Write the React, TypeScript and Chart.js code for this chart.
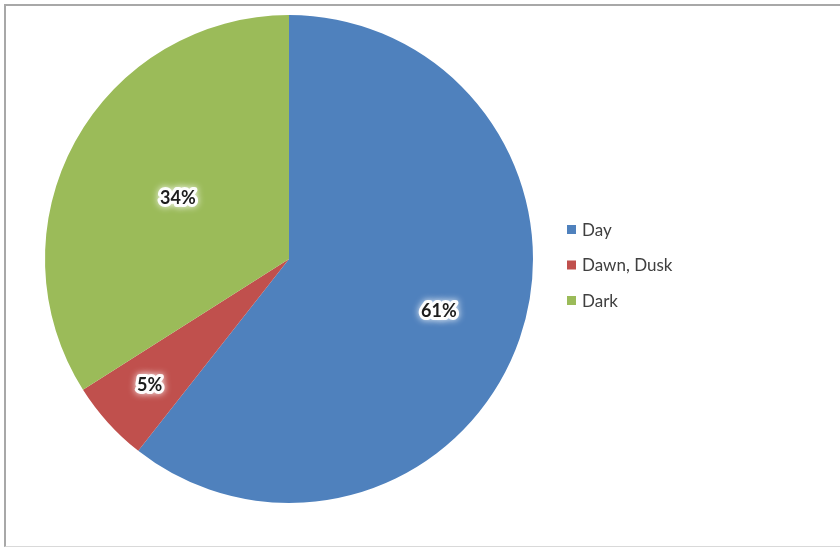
import React, { useEffect, useRef } from "react";
import { Chart, registerables } from "chart.js";

Chart.register(...registerables);

const categories = ["Day", "Dawn, Dusk", "Dark"];
const shares = [60.6, 5.4, 34.0];
const sliceColors = ["#4F81BD", "#C0504D", "#9BBB59"];
const labelRadiusFactors = [0.65, 0.77, 0.52];

const percentLabels = {
  id: "percentLabels",
  afterDatasetsDraw(chart: any) {
    const ctx = chart.ctx;
    const meta = chart.getDatasetMeta(0);
    ctx.save();
    ctx.font = "bold 18px Lato, 'Open Sans', sans-serif";
    ctx.textAlign = "center";
    ctx.textBaseline = "middle";
    meta.data.forEach((arc: any, i: number) => {
      const p = arc.getProps(["x", "y", "startAngle", "endAngle", "outerRadius"], true);
      const mid = (p.startAngle + p.endAngle) / 2;
      const r = p.outerRadius * labelRadiusFactors[i];
      const x = p.x + Math.cos(mid) * r;
      const y = p.y + Math.sin(mid) * r;
      const text = Math.round(shares[i]) + "%";
      ctx.shadowColor = "rgba(255,255,255,0.95)";
      ctx.shadowBlur = 7;
      ctx.lineJoin = "round";
      ctx.strokeStyle = "rgba(255,255,255,0.95)";
      ctx.lineWidth = 6;
      ctx.strokeText(text, x, y);
      ctx.shadowBlur = 0;
      ctx.fillStyle = "#1c1c1c";
      ctx.fillText(text, x, y);
    });
    ctx.restore();
  },
};

const sideLegend = {
  id: "sideLegend",
  afterDraw(chart: any) {
    const ctx = chart.ctx;
    const area = chart.chartArea;
    const cy = (area.top + area.bottom) / 2;
    const spacing = 35.5;
    const x0 = area.right + 34;
    ctx.save();
    ctx.font = "17px Lato, 'Open Sans', sans-serif";
    ctx.textBaseline = "middle";
    ctx.textAlign = "left";
    categories.forEach((c, i) => {
      const y = cy + 6 + (i - 1) * spacing;
      ctx.fillStyle = sliceColors[i];
      ctx.fillRect(x0, y - 4.5, 9, 9);
      ctx.fillStyle = "#404040";
      ctx.fillText(c, x0 + 15, y + 1);
    });
    ctx.restore();
  },
};

export default function App() {
  const canvasRef = useRef<HTMLCanvasElement>(null);

  useEffect(() => {
    document.body.style.margin = "0";
    const chart = new Chart(canvasRef.current!, {
      type: "pie",
      data: {
        labels: categories,
        datasets: [
          {
            data: shares,
            backgroundColor: sliceColors,
            borderWidth: 0,
          },
        ],
      },
      options: {
        animation: false,
        responsive: false,
        maintainAspectRatio: false,
        layout: { padding: { left: 45, top: 15, right: 307, bottom: 44 } },
        plugins: {
          legend: { display: false },
          tooltip: { enabled: false },
        },
      },
      plugins: [percentLabels, sideLegend],
    });
    return () => chart.destroy();
  }, []);

  return (
    <div style={{ position: "relative", width: 840, height: 547, overflow: "hidden", background: "#fff" }}>
      <div
        style={{
          position: "absolute",
          left: 4,
          top: 4,
          width: 900,
          height: 540,
          borderTop: "2px solid #a8a8a8",
          borderLeft: "2px solid #a8a8a8",
          borderBottom: "1px solid #d9d9d9",
        }}
      />
      <canvas ref={canvasRef} width={840} height={547} style={{ position: "absolute", left: 0, top: 0 }} />
    </div>
  );
}
